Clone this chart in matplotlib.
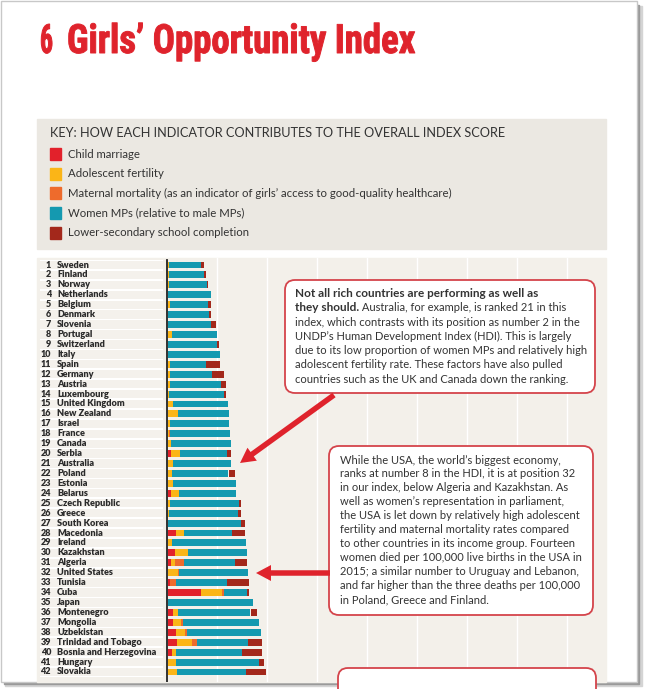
#!/usr/bin/env python3
'''
Girls' Opportunity Index - stacked bar page, ranks 1-42
'''

import numpy
import matplotlib.pyplot as plt
from matplotlib.patches import Rectangle, FancyBboxPatch, FancyArrow
from matplotlib.patheffects import AbstractPathEffect
from matplotlib.transforms import Affine2D

W, H = 647, 689

countries = ["Sweden", "Finland", "Norway", "Netherlands", "Belgium", "Denmark",
             "Slovenia", "Portugal", "Switzerland", "Italy", "Spain", "Germany",
             "Austria", "Luxembourg", "United Kingdom", "New Zealand", "Israel",
             "France", "Canada", "Serbia", "Australia", "Poland", "Estonia",
             "Belarus", "Czech Republic", "Greece", "South Korea", "Macedonia",
             "Ireland", "Kazakhstan", "Algeria", "United States", "Tunisia",
             "Cuba", "Japan", "Montenegro", "Mongolia", "Uzbekistan",
             "Trinidad and Tobago", "Bosnia and Herzegovina", "Hungary", "Slovakia"]

# contribution of each indicator to the overall score
child_marriage = [0, 0, 0, 0, 0, 0, 0, 0, 0, 0, 0, 0, 0, 0, 0, 0, 0, 0, 0, 3.0,
                  0, 0, 0, 3.0, 0, 0, 0, 8.0, 0, 7.3, 3.0, 0, 2.3, 33.0, 0, 5.0,
                  5.7, 8.3, 9.7, 4.0, 0, 0]
adolescent_fertility = [1.0, 1.5, 1.5, 0, 2.0, 0.5, 0, 4.0, 0, 0, 2.0, 2.0, 2.0,
                        1.5, 5.7, 10.7, 2.5, 1.0, 3.0, 9.3, 5.7, 4.7, 5.0, 8.3,
                        2.5, 1.5, 0, 8.3, 4.0, 13.3, 4.3, 10.7, 0, 21.7, 0, 5.7,
                        7.7, 9.0, 15.0, 4.0, 8.0, 9.0]
maternal_mortality = [0, 0, 0, 0.5, 0, 0, 0, 0, 0, 0.5, 0, 0, 0, 0, 0, 0, 0, 1.5,
                      0, 0, 0, 0, 0, 0, 0, 0, 0, 0, 0, 0, 9.3, 1.0, 5.7, 1.7,
                      0.5, 0, 2.3, 2.3, 4.3, 0, 0, 0]
women_mps = [32.0, 34.8, 37.5, 42.5, 38.7, 40.8, 43.0, 45.3, 49.0, 52.2, 36.0,
             42.7, 51.0, 54.8, 55.0, 50.6, 58.8, 59.8, 60.0, 46.7, 58.0, 56.3,
             63.3, 57.0, 68.8, 69.2, 73.0, 47.7, 74.0, 59.0, 50.4, 69.0, 51.0,
             23.3, 84.8, 72.3, 75.6, 73.4, 51.0, 66.3, 83.3, 69.0]
school_completion = [3.0, 2.7, 1.0, 0, 3.0, 2.7, 5.7, 0, 2.0, 0, 14.3, 12.3, 5.3,
                     2.7, 0, 0, 0, 0, 0, 4.0, 0, 6.0, 0, 0, 2.4, 3.0, 4.3, 13.3,
                     0, 0, 12.7, 0, 22.3, 1.7, 0, 6.0, 0, 0, 14.3, 20.4, 5.0, 20.7]

indicators = ["Child marriage", "Adolescent fertility",
              "Maternal mortality (as an indicator of girls\u2019 access to good-quality healthcare)",
              "Women MPs (relative to male MPs)", "Lower-secondary school completion"]
colours = ["#e2212b", "#fbb517", "#ee6b2c", "#1499b0", "#a3281b"]

key_title = "KEY: HOW EACH INDICATOR CONTRIBUTES TO THE OVERALL INDEX SCORE"

box1 = [[("Not all rich countries are performing as well as", "bold")],
        [("they should.", "bold"), (" Australia, for example, is ranked 21 in this", "normal")],
        [("index, which contrasts with its position as number 2 in the", "normal")],
        [("UNDP\u2019s Human Development Index (HDI). This is largely", "normal")],
        [("due to its low proportion of women MPs and relatively high", "normal")],
        [("adolescent fertility rate. These factors have also pulled", "normal")],
        [("countries such as the UK and Canada down the ranking.", "normal")]]

box2 = ["While the USA, the world\u2019s biggest economy,",
        "ranks at number 8 in the HDI, it is at position 32",
        "in our index, below Algeria and Kazakhstan. As",
        "well as women\u2019s representation in parliament,",
        "the USA is let down by relatively high adolescent",
        "fertility and maternal mortality rates compared",
        "to other countries in its income group. Fourteen",
        "women died per 100,000 live births in the USA in",
        "2015; a similar number to Uruguay and Lebanon,",
        "and far higher than the three deaths per 100,000",
        "in Poland, Greece and Finland."]

FONT = ["Lato", "DejaVu Sans"]
TFONT = ["Roboto Condensed", "Liberation Sans Narrow", "DejaVu Sans"]
TXT = "#333333"
RED = "#df232c"


class Squeeze(AbstractPathEffect):
    '''narrow the glyphs horizontally about x0 (display px), with a thickening stroke'''
    def __init__(self, sx, x0, lw=0.0):
        super().__init__()
        self.sx, self.x0, self.lw = sx, x0, lw

    def draw_path(self, renderer, gc, tpath, affine, rgbFace=None):
        t = affine + Affine2D().translate(-self.x0, 0).scale(self.sx, 1).translate(self.x0, 0)
        gc0 = renderer.new_gc()
        gc0.copy_properties(gc)
        gc0.set_linewidth(self.lw)
        gc0.set_foreground(rgbFace)
        renderer.draw_path(gc0, tpath, t, rgbFace)
        gc0.restore()


def page_axes(fig, z):
    ax = fig.add_axes([0, 0, 1, 1], zorder=z)
    ax.set_xlim(0, W)
    ax.set_ylim(H, 0)
    ax.axis("off")
    ax.patch.set_alpha(0)
    return ax


def title_text(fig, ax, x, x1, s):
    t = ax.text(x, 53, s, fontsize=29, color=RED, weight="bold",
                family=TFONT, va="baseline")
    fig.canvas.draw()
    w = t.get_window_extent(fig.canvas.get_renderer()).width
    t.set_path_effects([Squeeze((x1 - x) / w, x, lw=0.7)])


def draw_background(fig, ax):
    # page shadow / frame
    ax.add_patch(Rectangle((0, 0), W, H, color="white"))
    ax.add_patch(Rectangle((5, 6), 637, 680, color="#d4d4d4"))
    ax.add_patch(Rectangle((4, 5), 635, 679, color="#9a9a9a"))
    ax.add_patch(Rectangle((1, 1), 636, 681, facecolor="white", edgecolor="#c8c8c8", lw=1))
    # key panel
    ax.add_patch(Rectangle((37, 119), 569, 130, color="#ebe8e2"))
    ax.text(50, 133, key_title, fontsize=9.15, color=TXT, family=FONT, va="center")
    for i, (name, c) in enumerate(zip(indicators, colours)):
        y = 154 + i * 19.7
        ax.add_patch(Rectangle((50, y - 6), 11, 12, color=c))
        ax.text(68, y, name, fontsize=8.2, color=TXT, family=FONT, va="center")
    # chart panel
    ax.add_patch(Rectangle((37, 258), 569, 424, color="#f3f0ea"))
    # title
    title_text(fig, ax, 40, 53, "6")
    title_text(fig, ax, 67, 415, "Girls\u2019 Opportunity Index")


def draw_bars(fig):
    n = len(countries)
    pitch = (672 - 265) / (n - 1)
    ax = fig.add_axes([37 / W, 1 - 682 / H, (606 - 37) / W, (682 - 258) / H], zorder=1)
    ax.patch.set_alpha(0)
    ax.set_xlim(37 - 167, 606 - 167)
    ax.set_ylim((682 - 265) / pitch, -(265 - 258) / pitch)
    ax.axis("off")

    y = numpy.arange(n)
    # label strips
    ax.barh(y, 123, left=-127, height=1.0, color="white", zorder=1)
    ax.barh(y, 123, left=-127, height=0.84, color="#f4f1ec", zorder=1)
    for gx in range(50, 439, 50):
        ax.axvline(gx, color="white", lw=1, zorder=1)

    left = numpy.zeros(n)
    for vals, c in zip([child_marriage, adolescent_fertility, maternal_mortality,
                        women_mps, school_completion], colours):
        vals = numpy.array(vals)
        ax.barh(y, vals, left=left + 0.5, height=0.7, color=c, zorder=2, lw=0)
        left += vals
    ax.axvline(0, color="#222222", lw=1.3, zorder=3, ymax=0.995)

    for i, name in enumerate(countries):
        ax.text(-116, i, str(i + 1), ha="right", va="center", fontsize=6.5,
                weight="heavy", color="#2b2b2b", family=FONT, zorder=3)
        ax.text(-110, i, name, ha="left", va="center", fontsize=6.6,
                weight="heavy", color="#2b2b2b", family=FONT, zorder=3)


def draw_notes(fig, ax):
    kw = dict(boxstyle="round,pad=0,rounding_size=10", facecolor="white",
              edgecolor="#d4444b", lw=1.3)
    ax.add_patch(FancyBboxPatch((285, 280), 310, 113, **kw))
    ax.add_patch(FancyBboxPatch((329, 446), 264, 169, **kw))
    ax.add_patch(FancyBboxPatch((338, 668), 258, 60, **kw))

    fig.canvas.draw()
    r = fig.canvas.get_renderer()
    for k, parts in enumerate(box1):
        x = 295
        for s, wt in parts:
            t = ax.text(x, 293.5 + k * 14.3, s, fontsize=8.5 if wt == "bold" else 8.0,
                        weight=wt, color=TXT, family=FONT, va="center")
            x += t.get_window_extent(r).width
    for k, s in enumerate(box2):
        ax.text(340, 460 + k * 13.95, s, fontsize=8.0, color=TXT, family=FONT, va="center")

    ax.add_patch(FancyArrow(334, 395, -94, 68, width=5.5, head_width=16, head_length=15,
                            length_includes_head=True, color=RED, lw=0))
    ax.add_patch(FancyArrow(330, 573, -74, 0, width=5.5, head_width=16, head_length=15,
                            length_includes_head=True, color=RED, lw=0))


fig = plt.figure(figsize=(W / 100, H / 100), dpi=100)
bg = page_axes(fig, 0)
draw_background(fig, bg)
draw_bars(fig)
fg = page_axes(fig, 2)
draw_notes(fig, fg)
plt.savefig("out.png", dpi=100)
